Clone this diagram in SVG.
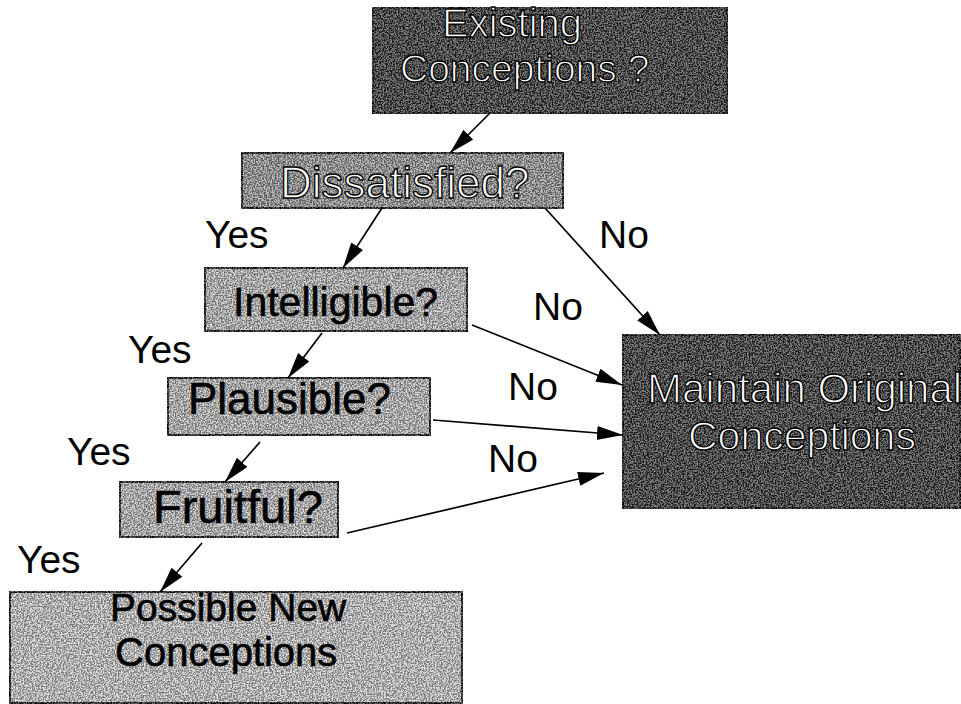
<svg xmlns="http://www.w3.org/2000/svg" width="961" height="704" viewBox="0 0 961 704">
<defs>
<marker id="arr" viewBox="0 0 26 16" refX="26" refY="8" markerWidth="26" markerHeight="16" markerUnits="userSpaceOnUse" orient="auto">
<path d="M0,1 L26,8 L0,15 z" fill="#000"/>
</marker>
<filter id="grain" x="-0.02" y="-0.05" width="1.04" height="1.1" color-interpolation-filters="sRGB">
<feTurbulence type="fractalNoise" baseFrequency="0.65" numOctaves="2" seed="4" result="t"/>
<feColorMatrix in="t" type="matrix" values="4 0 0 0 -1.5  4 0 0 0 -1.5  4 0 0 0 -1.5  0 0 0 0 0.4" result="g"/>
<feComposite in="g" in2="SourceAlpha" operator="in" result="gi"/>
<feMerge><feMergeNode in="SourceGraphic"/><feMergeNode in="gi"/></feMerge>
</filter>
</defs>
<style>
.box{stroke:#000;stroke-width:2;filter:url(#grain)}
.dark{fill:#2a2a2a}
.mid{fill:#949494}
.light{fill:#bcbcbc}
.pale{fill:#cccccc}
.t{font-family:"Liberation Sans",Arial,sans-serif}
.wt{fill:#fff;stroke:#000;stroke-width:1.3}
.bt{fill:#000;stroke:#000;stroke-width:0.6}
.lbl{font-family:"Liberation Sans",Arial,sans-serif;font-size:39px;fill:#000}
.c line{stroke:#000;stroke-width:1.7;marker-end:url(#arr)}
</style>
<rect width="961" height="704" fill="#fff"/>
<g id="existing">
<rect class="box dark" x="373" y="8" width="354" height="105"/>
<text class="t wt" x="442" y="37" font-size="40">Existing</text>
<text class="t wt" x="400" y="82" font-size="39">Conceptions ?</text>
</g>
<g id="dissatisfied">
<rect class="box mid" x="242" y="153" width="321" height="55"/>
<text class="t wt" x="280" y="198" font-size="44">Dissatisfied?</text>
</g>
<g id="intelligible">
<rect class="box light" x="205" y="268" width="262" height="63"/>
<text class="t bt" x="233" y="316" font-size="41">Intelligible?</text>
</g>
<g id="plausible">
<rect class="box light" x="168" y="378" width="262" height="57"/>
<text class="t bt" x="188" y="414" font-size="44">Plausible?</text>
</g>
<g id="fruitful">
<rect class="box light" x="120" y="482" width="218" height="55"/>
<text class="t bt" x="153" y="523" font-size="47">Fruitful?</text>
</g>
<g id="possible">
<rect class="box pale" x="10" y="592" width="452" height="111"/>
<text class="t bt" x="110" y="621" font-size="39">Possible New</text>
<text class="t bt" x="115" y="666" font-size="40">Conceptions</text>
</g>
<g id="maintain">
<rect class="box dark" x="623" y="335" width="337" height="173"/>
<text class="t wt" x="647" y="403" font-size="42">Maintain Original</text>
<text class="t wt" x="688" y="450" font-size="41">Conceptions</text>
</g>
<g id="connectors" class="c">
<line x1="490" y1="113" x2="450" y2="153"/>
<line x1="382" y1="208" x2="343" y2="268"/>
<line x1="322" y1="333" x2="288" y2="378"/>
<line x1="260" y1="442" x2="225" y2="482"/>
<line x1="202" y1="543" x2="160" y2="592"/>
<line x1="545" y1="208" x2="660" y2="335"/>
<line x1="472" y1="325" x2="622" y2="385"/>
<line x1="433" y1="420" x2="623" y2="435"/>
<line x1="347" y1="533" x2="604" y2="473"/>
</g>
<g id="labels">
<text class="lbl" x="205" y="248">Yes</text>
<text class="lbl" x="128" y="363">Yes</text>
<text class="lbl" x="67" y="465">Yes</text>
<text class="lbl" x="17" y="573">Yes</text>
<text class="lbl" x="599" y="248">No</text>
<text class="lbl" x="533" y="320">No</text>
<text class="lbl" x="508" y="400">No</text>
<text class="lbl" x="488" y="472">No</text>
</g>
</svg>
